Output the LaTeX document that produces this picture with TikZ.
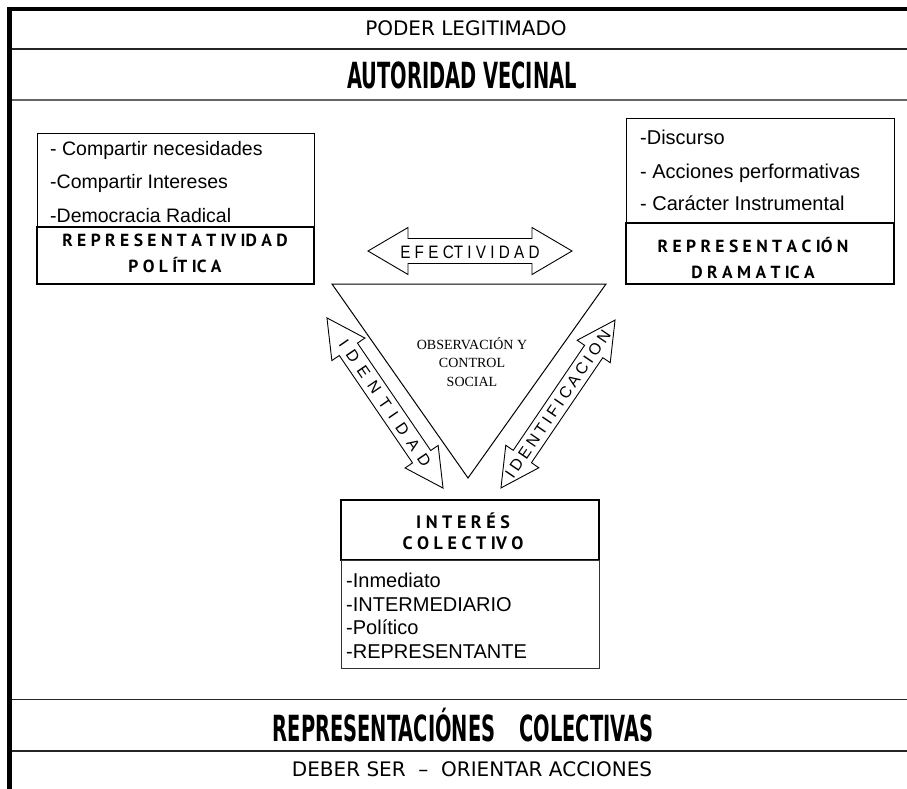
\documentclass[tikz,border=0pt]{standalone}
\usepackage{fontspec}
\setmainfont{Liberation Sans}
\newfontfamily\headfont{DejaVu Sans}
\newfontfamily\impactfont{DejaVu Sans Condensed}[FakeStretch=0.6]
\newfontfamily\boxtitlefont{PT Sans}
\newfontfamily\serifont{Liberation Serif}
\newfontfamily\narrowfont{Liberation Sans}[FakeStretch=0.85]
\tikzset{
  band/.style={line width=1.7pt, draw=black!85},
  headtxt/.style={font=\headfont\fontsize{20}{24}\selectfont, inner sep=0},
  bigtxt/.style={font=\impactfont\bfseries\fontsize{36}{40}\selectfont, inner sep=0},
  item/.style={anchor=base west, inner sep=0, font=\fontsize{19.5}{23}\selectfont},
  ttl/.style={align=center, inner sep=0, font=\boxtitlefont\bfseries\fontsize{17.5}{26}\selectfont},
  thinbox/.style={draw, line width=1pt},
  thickbox/.style={draw, line width=2pt},
  blockarrow/.style={draw, line width=0.9pt, fill=white},
  arrowtxt/.style={inner sep=0, font=\fontsize{16}{18}\selectfont},
}
\begin{document}
\begin{tikzpicture}[x=1pt,y=-1pt]
\useasboundingbox (0,0) rectangle (907,789);
% frame
\draw[line width=4pt] (7,9) -- (907,9);
\draw[line width=5pt] (9.5,7) -- (9.5,789);
\draw[band] (12,49) -- (907,49);
\draw[line width=2pt, draw=black!60] (12,100.3) -- (907,100.3);
\draw[band] (12,699.5) -- (907,699.5);
\draw[band] (12,751.2) -- (907,751.2);
% headings
\node[headtxt] (poder) at (466,28) {PODER LEGITIMADO};
\node[bigtxt] (autoridad) at (462,75) {AUTORIDAD VECINAL};
\node[bigtxt] (repcol) at (463,725) {REPRESENTACIÓNES\hspace{24pt}COLECTIVAS};
\node[headtxt] (deber) at (472,769) {DEBER SER \ –\ \ ORIENTAR ACCIONES};
% left box
\draw[thinbox] (37,134) rectangle (314,227);
\draw[thickbox] (37,227) rectangle (314,284);
\node[item] (l1) at (50,155) {- Compartir necesidades};
\node[item] (l2) at (50,188.5) {-Compartir Intereses};
\node[item] (l3) at (50,222) {-Democracia Radical};
\node[ttl] (rpol) at (175,253) {R E P R E S E N T A T IV ID A D\\P O L ÍT IC A};
% right box
\draw[thinbox] (626,119) rectangle (894,223);
\draw[thickbox] (626,223) rectangle (894,284);
\node[item, font=\fontsize{20}{23}\selectfont] (r1) at (640,145) {-Discurso};
\node[item, font=\fontsize{20}{23}\selectfont] (r2) at (640,178) {- Acciones performativas};
\node[item, font=\fontsize{20}{23}\selectfont] (r3) at (640,210) {- Carácter Instrumental};
\node[ttl] (rdram) at (753,258) {R E P R E S E N T A C IÓ N\\D R A M A T IC A};
% interes colectivo
\draw[thickbox] (341,500) rectangle (599,560);
\draw[thinbox, draw=black!80] (341,560) rectangle (599,668);
\node[ttl, font=\boxtitlefont\bfseries\fontsize{18}{21}\selectfont] (interes) at (463,531) {I N T E R É S\\C O L E C T IV O};
\node[item, font=\fontsize{20}{23}\selectfont] (i1) at (346,587) {-Inmediato};
\node[item, font=\fontsize{20}{23}\selectfont] (i2) at (346,611) {-INTERMEDIARIO};
\node[item, font=\fontsize{20}{23}\selectfont] (i3) at (346,634.5) {-Político};
\node[item, font=\fontsize{20}{23}\selectfont] (i4) at (346,658) {-REPRESENTANTE};
% triangle
\draw[line width=1pt] (332,284) -- (606,284) -- (468,478) -- cycle;
\node[align=center, inner sep=0, font=\serifont\fontsize{14}{18.5}\selectfont] (obs) at (472,362) {OBSERVACIÓN Y\\CONTROL\\SOCIAL};
% efectividad arrow
\begin{scope}[shift={(470,251)}]
\draw[blockarrow] (-102,0) -- (-62,-23.5) -- (-62,-12.5) -- (62,-12.5) -- (62,-23.5) -- (102,0) -- (62,23.5) -- (62,12.5) -- (-62,12.5) -- (-62,23.5) -- cycle;
\node[arrowtxt, font=\narrowfont\fontsize{18}{20}\selectfont] (efect) at (0,1) {E F E CT I V I D A D};
\end{scope}
% identidad arrow
\begin{scope}[shift={(385,403)}, rotate=-55.7]
\draw[blockarrow] (-103,0) -- (-65,-20) -- (-65,-11) -- (65,-11) -- (65,-20) -- (103,0) -- (65,20) -- (65,11) -- (-65,11) -- (-65,20) -- cycle;
\node[arrowtxt, rotate=-55.7] (ident) at (0,0) {\spaceskip=8pt I D E N T I D A D};
\end{scope}
% identificacion arrow
\begin{scope}[shift={(558,404)}, rotate=55.8]
\draw[blockarrow] (-101.5,0) -- (-63.5,-20) -- (-63.5,-11) -- (63.5,-11) -- (63.5,-20) -- (101.5,0) -- (63.5,20) -- (63.5,11) -- (-63.5,11) -- (-63.5,20) -- cycle;
\node[arrowtxt, rotate=55.8] (identif) at (0,0) {\addfontfeature{LetterSpace=22}IDENTIFICACION};
\end{scope}
\end{tikzpicture}
\end{document}
